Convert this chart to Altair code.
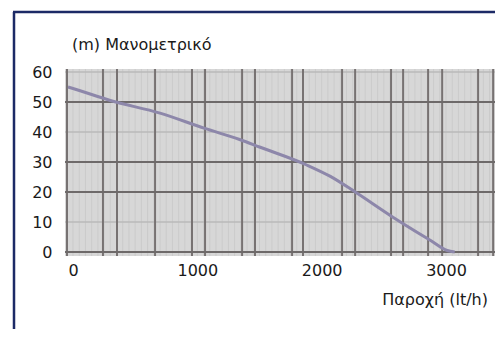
import altair as alt
import pandas as pd

# Pump curve: flow (lt/h) vs head (m)
flow = [-40, 0, 300, 700, 1060, 1340, 1500, 1880, 2070, 2270, 2570, 2870, 3010, 3070]
head = [55, 54.5, 50.5, 46.3, 41.2, 37.5, 35, 29, 25.2, 20, 11.7, 4, 0.5, 0]

x_ticks = [0, 1000, 2000, 3000]
y_ticks = [0, 10, 20, 30, 40, 50, 60]

# graph-paper lines
grid_x_dark = [-48, 241, 354, 660, 957, 1062, 1360, 1464, 1762, 1850, 2164, 2269,
               2558, 2655, 2856, 2969, 3258, 3379]
grid_x_light = list(range(-50, 3400, 50))
grid_y_dark = [0, 20, 30, 50]
grid_y_light = [10, 40, 60]

title_y = "(m) Μανομετρικό"
title_x = "Παροχή (lt/h)"

FONT = "DejaVu Sans"
xs = alt.Scale(domain=[-64.3, 3394], nice=False, zero=False)
ys = alt.Scale(domain=[-1.33, 61], nice=False, zero=False)

x_axis = alt.Axis(values=x_ticks, format="d", title=None, grid=False, ticks=False, domain=False,
                  labelFont=FONT, labelFontSize=16, labelColor="#1a1a1a",
                  labelPadding=6, labelFlush=False)
y_axis = alt.Axis(values=y_ticks, format="d", title=None, grid=False, ticks=False, domain=False,
                  labelFont=FONT, labelFontSize=16, labelColor="#1a1a1a",
                  labelPadding=13, labelFlush=False)

curve_df = pd.DataFrame({"q": flow, "h": head})
gxl = pd.DataFrame({"q": grid_x_light})
gxd = pd.DataFrame({"q": grid_x_dark})
gyl = pd.DataFrame({"h": grid_y_light})
gyd = pd.DataFrame({"h": grid_y_dark})

light_v = alt.Chart(gxl).mark_rule(color="#cbcbcb", strokeWidth=1).encode(
    x=alt.X("q:Q", scale=xs, axis=x_axis))
dark_v = alt.Chart(gxd).mark_rule(color="#777272", strokeWidth=2).encode(
    x=alt.X("q:Q", scale=xs, axis=x_axis))
light_h = alt.Chart(gyl).mark_rule(color="#bababa", strokeWidth=1.5).encode(
    y=alt.Y("h:Q", scale=ys, axis=y_axis))
dark_h = alt.Chart(gyd).mark_rule(color="#6e6a6a", strokeWidth=2).encode(
    y=alt.Y("h:Q", scale=ys, axis=y_axis))

curve = alt.Chart(curve_df).mark_line(
    color="#8d87aa", strokeWidth=3, clip=True, interpolate="monotone"
).encode(
    x=alt.X("q:Q", scale=xs, axis=x_axis),
    y=alt.Y("h:Q", scale=ys, axis=y_axis),
)

ytitle = alt.Chart(pd.DataFrame({"t": [title_y]})).mark_text(
    font=FONT, fontSize=16, color="#1a1a1a", align="left", baseline="middle"
).encode(text="t:N", x=alt.value(7), y=alt.value(-24))

xtitle = alt.Chart(pd.DataFrame({"t": [title_x]})).mark_text(
    font=FONT, fontSize=16, color="#1a1a1a", align="right", baseline="middle"
).encode(text="t:N", x=alt.value(423), y=alt.value(231))

border_left = alt.Chart(pd.DataFrame({"a": [0]})).mark_rule(
    color="#1c2a66", strokeWidth=2.5, clip=False
).encode(x=alt.value(-51), y=alt.value(-57), y2=alt.value(260))

border_top = alt.Chart(pd.DataFrame({"a": [0]})).mark_rule(
    color="#1c2a66", strokeWidth=2.5, clip=False
).encode(x=alt.value(-52), x2=alt.value(430), y=alt.value(-57))

chart = alt.layer(
    light_v, light_h, dark_v, dark_h, curve, ytitle, xtitle, border_left, border_top
).properties(
    width=430, height=187,
    padding={"left": 57, "top": 61, "right": 0, "bottom": 73},
    autosize=alt.AutoSizeParams(type="none"),
    background="white",
).configure_view(fill="#d7d7d7", stroke=None)

chart.save("out.html", embed_options={"renderer": "svg", "actions": False})
